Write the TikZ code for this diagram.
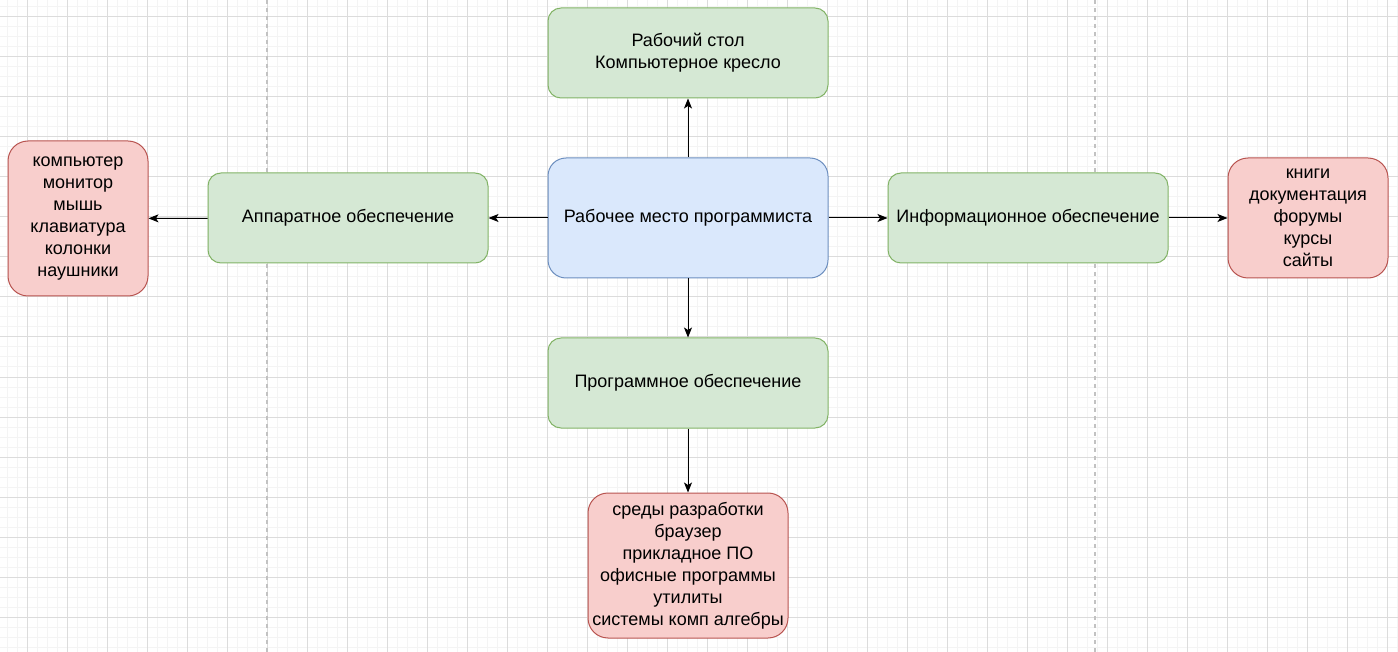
\documentclass[tikz,border=0pt]{standalone}
\usepackage{fontspec}
\setmainfont{Liberation Sans}
\usepackage{xcolor}
\usepackage{tikz}
\usetikzlibrary{positioning,arrows.meta}
\definecolor{greenfill}{HTML}{D5E8D4}
\definecolor{greendraw}{HTML}{82B366}
\definecolor{bluefill}{HTML}{DAE8FC}
\definecolor{bluedraw}{HTML}{6C8EBF}
\definecolor{redfill}{HTML}{F8CECC}
\definecolor{reddraw}{HTML}{B85450}
\definecolor{minorgrid}{HTML}{F4F4F4}
\definecolor{majorgrid}{HTML}{DCDCDC}
\definecolor{pageline}{HTML}{C2C2C2}
\tikzset{
    block/.style={rectangle, draw, line width=1pt, align=center, inner sep=0pt,
        font=\fontsize{18}{22}\selectfont},
    main block/.style={block, fill=bluefill, draw=bluedraw, rounded corners=18pt,
        minimum width=280pt, minimum height=120pt},
    sub block/.style={block, fill=greenfill, draw=greendraw, rounded corners=13pt,
        minimum width=280pt, minimum height=90pt},
    list block/.style={block, fill=redfill, draw=reddraw, rounded corners=20pt},
    connection/.style={-{Stealth[length=10pt, width=8pt, inset=2.5pt]}, line width=1pt, black},
    minor line/.style={minorgrid, line width=1pt},
    major line/.style={majorgrid, line width=1pt},
    page line/.style={pageline, line width=1.3pt, dash pattern=on 4pt off 4pt}
}

\begin{document}
\begin{tikzpicture}[x=1pt, y=-1pt]
    \useasboundingbox (0,0) rectangle (1398,652);
    \fill[white] (0,0) rectangle (1398,652);

    % Background grid
    \foreach \x in {7,17,...,1397} {
        \draw[minor line] (\x,0) -- (\x,652);
    }
    \foreach \y in {7,17,...,647} {
        \draw[minor line] (0,\y) -- (1398,\y);
    }
    \foreach \x in {27,67,...,1387} {
        \draw[major line] (\x,0) -- (\x,652);
    }
    \foreach \y in {17,57,...,617} {
        \draw[major line] (0,\y) -- (1398,\y);
    }

    % Page breaks
    \draw[page line] (267,0) -- (267,652);
    \draw[page line] (1095,0) -- (1095,652);

    % Central block
    \node[main block] (WP) at (688,218) {Рабочее место программиста};

    % Second level blocks
    \node[sub block] (FN) at (688,53) {Рабочий стол\\Компьютерное кресло};
    \node[sub block] (HW) at (348,218) {Аппаратное обеспечение};
    \node[sub block] (IS) at (1028,218) {Информационное обеспечение};
    \node[sub block] (SW) at (688,383) {Программное обеспечение};

    % Lists
    \node[list block, minimum width=140pt, minimum height=155pt] (HWL) at (78,218.5)
        {компьютер\\монитор\\мышь\\клавиатура\\колонки\\наушники};
    \node[list block, minimum width=160pt, minimum height=120pt] (ISL) at (1308,218)
        {книги\\документация\\форумы\\курсы\\сайты};
    \node[list block, minimum width=200pt, minimum height=145pt] (SWL) at (688,565.5)
        {среды разработки\\браузер\\прикладное ПО\\офисные программы\\утилиты\\системы комп алгебры};

    % Connections
    \draw[connection] (WP) -- (FN);
    \draw[connection] (WP) -- (HW);
    \draw[connection] (WP) -- (IS);
    \draw[connection] (WP) -- (SW);
    \draw[connection] (HW) -- (HWL);
    \draw[connection] (IS) -- (ISL);
    \draw[connection] (SW) -- (SWL);
\end{tikzpicture}
\end{document}
